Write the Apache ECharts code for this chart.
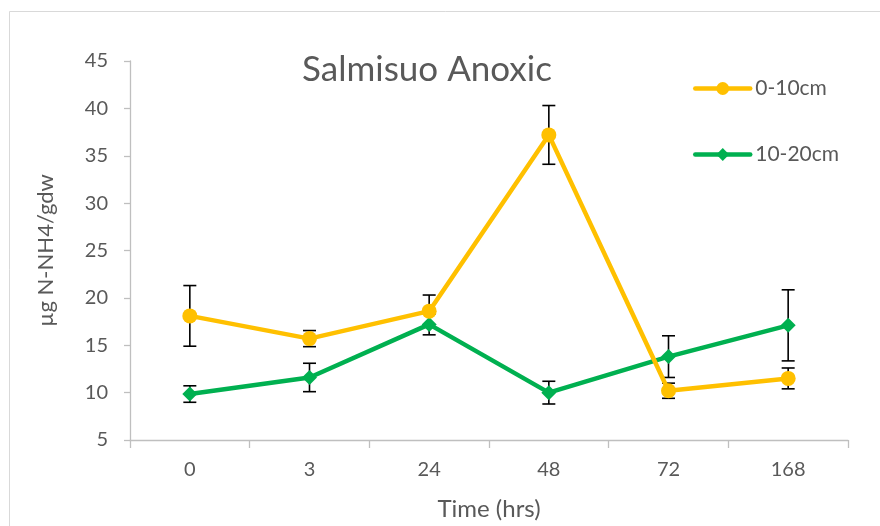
<!DOCTYPE html>
<html><head><meta charset="utf-8">
<script src="https://cdn.jsdelivr.net/npm/echarts@6/dist/echarts.min.js"></script>
<style>html,body{margin:0;padding:0;background:#fff}#c{width:880px;height:526px}</style>
</head><body><div id="c"></div>
<script>
var categories = ['0', '3', '24', '48', '72', '168'];
var shallow = [18.1, 15.7, 18.6, 37.2, 10.2, 11.5];
var shallowErr = [3.2, 0.85, 1.7, 3.1, 0.8, 1.1];
var deep = [9.85, 11.6, 17.2, 10.0, 13.8, 17.1];
var deepErr = [0.87, 1.5, 1.1, 1.2, 2.2, 3.75];
var yTicks = [5, 10, 15, 20, 25, 30, 35, 40, 45];

var FONT = 'Lato';
var TXT = '#595959';

function errData(vals, errs) {
  return vals.map(function (v, i) { return [i, v - errs[i], v + errs[i]]; });
}
function errSeries(vals, errs) {
  return {
    type: 'custom', z: 1, silent: true,
    data: errData(vals, errs),
    renderItem: function (params, api) {
      var lo = api.coord([api.value(0), api.value(1)]);
      var hi = api.coord([api.value(0), api.value(2)]);
      var w = 6.5;
      var st = { stroke: '#000', lineWidth: 1.6 };
      return { type: 'group', children: [
        { type: 'line', shape: { x1: lo[0], y1: lo[1], x2: hi[0], y2: hi[1] }, style: st },
        { type: 'line', shape: { x1: lo[0] - w, y1: lo[1], x2: lo[0] + w, y2: lo[1] }, style: st },
        { type: 'line', shape: { x1: hi[0] - w, y1: hi[1], x2: hi[0] + w, y2: hi[1] }, style: st }
      ]};
    }
  };
}

var chart = echarts.init(document.getElementById('c'));
chart.setOption({
  backgroundColor: '#fff',
  animation: false,
  graphic: [{ type: 'rect', shape: { x: 9.5, y: 11.5, width: 1000, height: 1000 }, style: { fill: 'none', stroke: '#d9d9d9', lineWidth: 1 }, silent: true }],
  title: { text: 'Salmisuo Anoxic', left: 422, top: 47, textAlign: 'center',
    textStyle: { fontFamily: FONT, fontSize: 35, fontWeight: 'normal', color: TXT } },
  legend: {
    left: 693, top: 78, padding: 0, orient: 'vertical', itemWidth: 55, itemHeight: 16, itemGap: 45,
    lineStyle: { width: 4.5, cap: 'round' },
    textStyle: { fontFamily: FONT, fontSize: 21, color: TXT, lineHeight: 16 },
    data: ['0-10cm', '10-20cm']
  },
  grid: { left: 130, right: 32, top: 61, bottom: 84 },
  xAxis: {
    type: 'category', data: categories, boundaryGap: true,
    name: 'Time (hrs)', nameLocation: 'middle', nameGap: 57,
    nameTextStyle: { fontFamily: FONT, fontSize: 24, color: TXT },
    axisLine: { lineStyle: { color: '#bfbfbf', width: 1.3 } },
    axisTick: { show: true, length: 8, interval: 0, lineStyle: { color: '#bfbfbf', width: 1.3 } },
    axisLabel: { fontFamily: FONT, fontSize: 20, color: TXT, margin: 20 }
  },
  yAxis: {
    type: 'value', min: 5, max: 45, interval: 5,
    name: 'µg N-NH4/gdw', nameLocation: 'middle', nameGap: 73,
    nameTextStyle: { fontFamily: FONT, fontSize: 22, color: TXT },
    axisLine: { show: true, lineStyle: { color: '#bfbfbf', width: 1.3 } },
    axisTick: { show: true, length: 6, lineStyle: { color: '#bfbfbf', width: 1.3 } },
    splitLine: { show: false },
    axisLabel: { fontFamily: FONT, fontSize: 20, color: TXT, margin: 22,
      formatter: function (v) { return yTicks.indexOf(v) >= 0 ? String(v) : ''; } }
  },
  series: [
    errSeries(shallow, shallowErr),
    errSeries(deep, deepErr),
    { name: '0-10cm', type: 'line', data: shallow, z: 3, symbol: 'circle', symbolSize: 15,
      lineStyle: { color: '#FFC000', width: 4.5 }, itemStyle: { color: '#FFC000' } },
    { name: '10-20cm', type: 'line', data: deep, z: 2, symbol: 'diamond', symbolSize: 15,
      lineStyle: { color: '#00B050', width: 4.5 }, itemStyle: { color: '#00B050' } }
  ]
});
</script></body></html>
